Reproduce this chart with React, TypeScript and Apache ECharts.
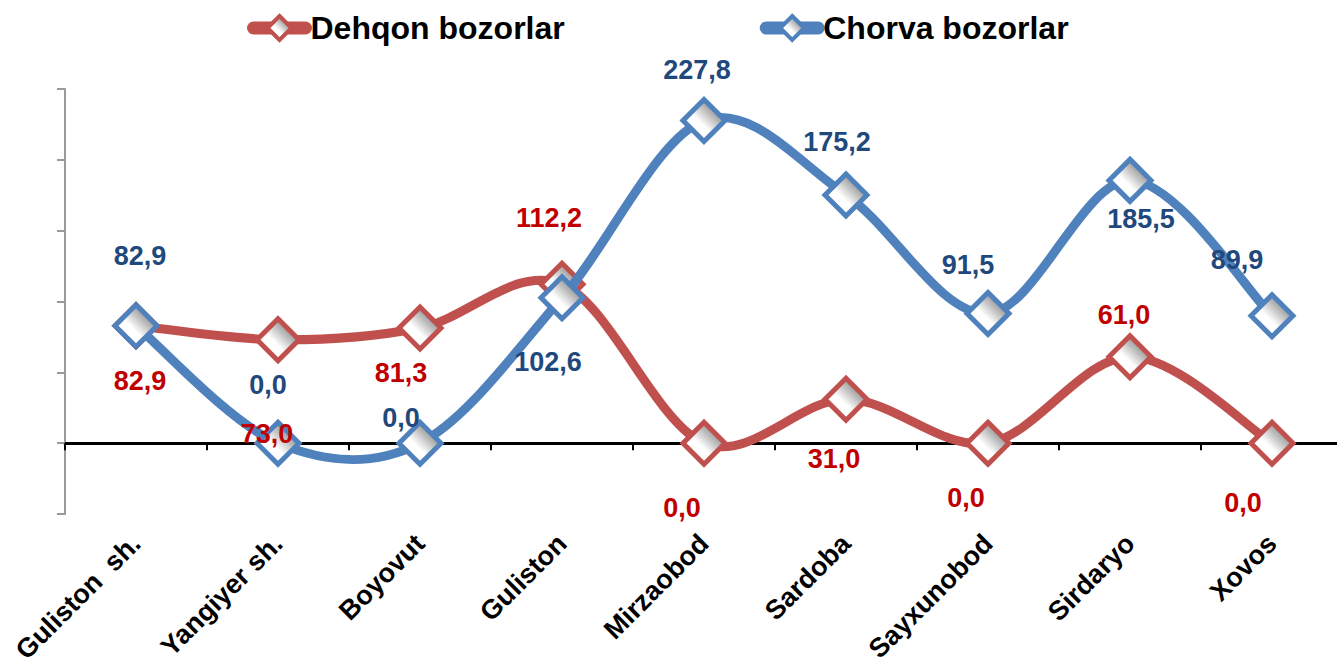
import React, { useEffect, useRef } from "react";
import * as echarts from "echarts";

const categories = [
  "Guliston  sh.",
  "Yangiyer sh.",
  "Boyovut",
  "Guliston",
  "Mirzaobod",
  "Sardoba",
  "Sayxunobod",
  "Sirdaryo",
  "Xovos",
];
const dehqonValues = [82.9, 73.0, 81.3, 112.2, 0.0, 31.0, 0.0, 61.0, 0.0];
const chorvaValues = [82.9, 0.0, 0.0, 102.6, 227.8, 175.2, 91.5, 185.5, 89.9];
const seriesNames = ["Dehqon bozorlar", "Chorva bozorlar"];

// label placement (pixel offsets from each marker centre), layout only
const dehqonLabelOffsets = [
  [4, 55], [-11, 94], [-19, 45], [-13, -66], [-22, 65], [-12, 60], [-22, 55], [-6, -42], [-29, 60],
];
const chorvaLabelOffsets = [
  [4, -70], [-10, -58], [-19, -25], [-14, 64], [-7, -50], [-9, -53], [-20, -49], [11, 39], [-35, -56],
];

const FONT = "'Liberation Sans', Arial, Helvetica, sans-serif";
const RED = "#C0504D";
const BLUE = "#4F81BD";
const RED_TXT = "#C00000";
const BLUE_TXT = "#1F497D";

const markerFill = {
  type: "linear",
  x: 0.15,
  y: 0.85,
  x2: 0.85,
  y2: 0.15,
  colorStops: [
    { offset: 0, color: "#ffffff" },
    { offset: 0.4, color: "#ffffff" },
    { offset: 1, color: "#7a7a7a" },
  ],
};

const fmt = (v: number) => v.toFixed(1).replace(".", ",");

// Smooth curve (Catmull-Rom style, as spreadsheet "smoothed line") drawn through the axis scales
function curveSeries(values: number[], color: string, z: number) {
  return {
    type: "custom",
    z,
    silent: true,
    clip: false,
    data: values.map((v, i) => [i, v]),
    encode: { x: 0, y: 1 },
    renderItem: (params: any, api: any) => {
      if (params.dataIndex !== 0) return null;
      const pts = values.map((v, i) => api.coord([i, v]));
      const n = pts.length;
      let d = `M${pts[0][0]},${pts[0][1]}`;
      for (let i = 0; i < n - 1; i++) {
        const p0 = pts[Math.max(i - 1, 0)];
        const p1 = pts[i];
        const p2 = pts[i + 1];
        const p3 = pts[Math.min(i + 2, n - 1)];
        const c1x = p1[0] + (p2[0] - p0[0]) / 6;
        const c1y = p1[1] + (p2[1] - p0[1]) / 6;
        const c2x = p2[0] - (p3[0] - p1[0]) / 6;
        const c2y = p2[1] - (p3[1] - p1[1]) / 6;
        d += ` C${c1x},${c1y} ${c2x},${c2y} ${p2[0]},${p2[1]}`;
      }
      return {
        type: "path",
        shape: { pathData: d },
        style: {
          fill: "none",
          stroke: color,
          lineWidth: 9,
          lineCap: "round",
          lineJoin: "round",
        },
      };
    },
  };
}

function markerSeries(name: string, values: number[], color: string, z: number) {
  return {
    name,
    type: "line",
    data: values,
    symbol: "diamond",
    symbolSize: 42,
    showAllSymbol: true,
    lineStyle: { color, width: 9, opacity: 0 },
    itemStyle: { color: markerFill, borderColor: color, borderWidth: 5 },
    label: { show: false },
    silent: true,
    z,
  };
}

function labelSeries(values: number[], offsets: number[][], color: string) {
  return {
    type: "scatter",
    z: 10,
    silent: true,
    symbolSize: 1,
    itemStyle: { color: "rgba(255,255,255,0)" },
    data: values.map((v, i) => ({ value: v, label: { offset: offsets[i] } })),
    label: {
      show: true,
      position: "inside",
      fontFamily: FONT,
      fontWeight: "bold",
      fontSize: 27,
      color,
      opacity: 1,
      textBorderWidth: 0,
      textBorderColor: "transparent",
      textShadowBlur: 0,
      formatter: (p: any) => fmt(p.value),
    },
  };
}

export default function App() {
  const ref = useRef<HTMLDivElement>(null);
  useEffect(() => {
    if (!ref.current) return;
    const chart = echarts.init(ref.current, undefined, { renderer: "svg" });
    chart.setOption({
      animation: false,
      backgroundColor: "#ffffff",
      legend: {
        left: 242,
        top: 7,
        itemWidth: 52,
        itemHeight: 30,
        itemGap: 195,
        textStyle: {
          fontFamily: FONT,
          fontWeight: "bold",
          fontSize: 32,
          color: "#000000",
        },
        lineStyle: { width: 13, cap: "round", opacity: 1 },
        itemStyle: { borderWidth: 4 },
        data: seriesNames,
      },
      grid: {
        left: 65,
        right: -6,
        top: 89,
        bottom: 144,
        containLabel: false,
        outerBoundsMode: "none",
      },
      xAxis: {
        type: "category",
        data: categories,
        boundaryGap: true,
        axisLine: { onZero: true, lineStyle: { color: "#000000", width: 3 } },
        axisTick: { show: true, length: 7, lineStyle: { color: "#000000", width: 2 } },
        axisLabel: {
          rotate: 45,
          interval: 0,
          margin: 25,
          fontFamily: FONT,
          fontWeight: "bold",
          fontSize: 27,
          color: "#000000",
        },
        splitLine: { show: false },
      },
      yAxis: {
        type: "value",
        min: -50,
        max: 250,
        interval: 50,
        axisLine: { show: true, lineStyle: { color: "#9a9a9a", width: 2 } },
        axisTick: { show: true, length: 8, lineStyle: { color: "#9a9a9a", width: 2 } },
        axisLabel: { show: false },
        splitLine: { show: false },
      },
      series: [
        curveSeries(dehqonValues, RED, 2),
        markerSeries(seriesNames[0], dehqonValues, RED, 3),
        curveSeries(chorvaValues, BLUE, 4),
        markerSeries(seriesNames[1], chorvaValues, BLUE, 5),
        labelSeries(dehqonValues, dehqonLabelOffsets, RED_TXT),
        labelSeries(chorvaValues, chorvaLabelOffsets, BLUE_TXT),
      ],
    });
    return () => chart.dispose();
  }, []);
  return (
    <div
      ref={ref}
      style={{ position: "fixed", left: 0, top: 0, width: 1337, height: 658 }}
    />
  );
}
